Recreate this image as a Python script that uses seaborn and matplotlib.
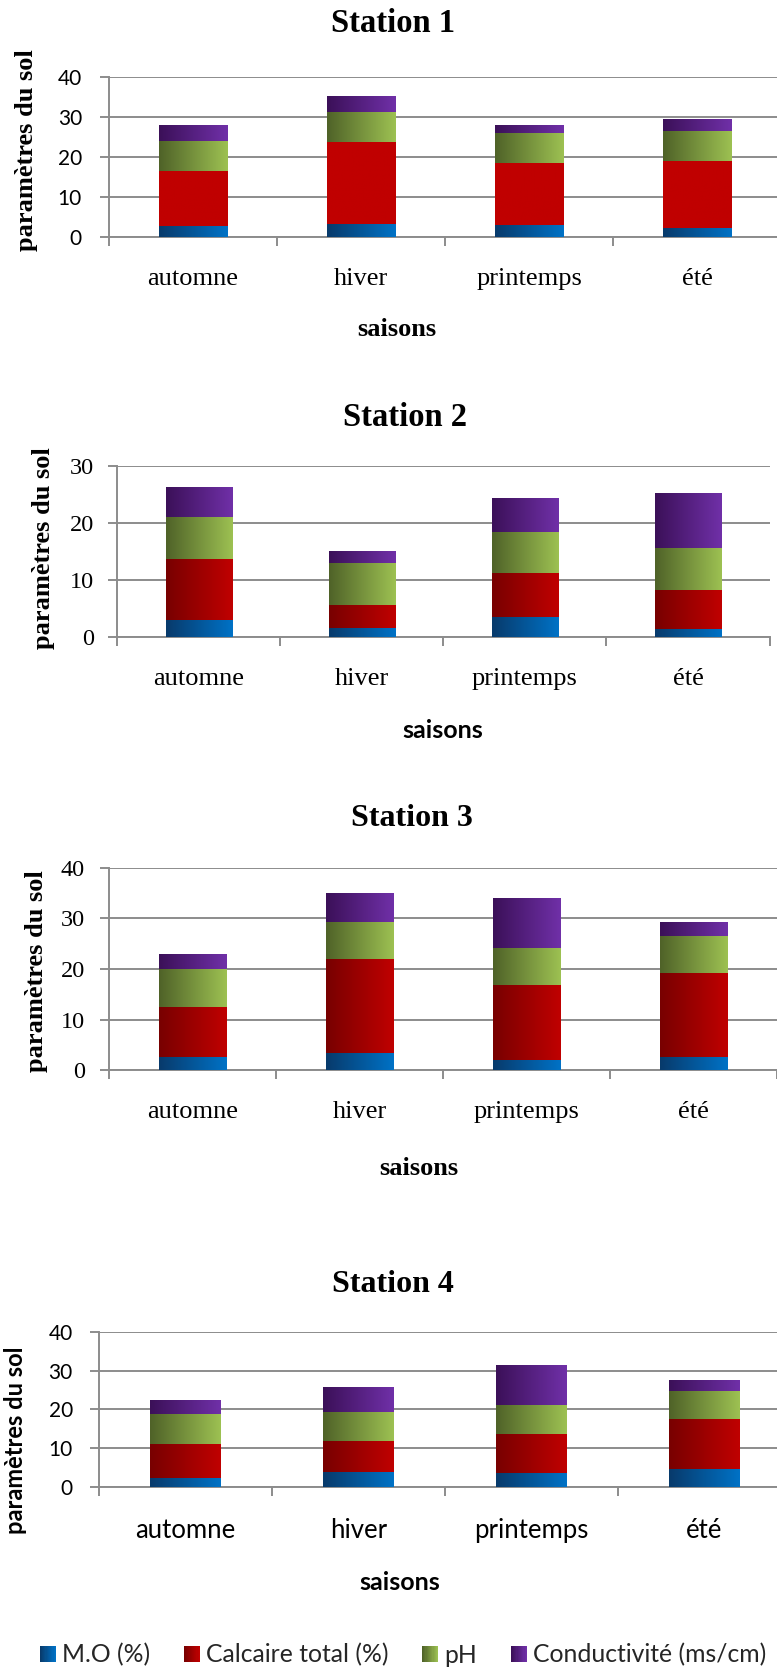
import numpy as np
import pandas as pd
import matplotlib
matplotlib.use("Agg")
import matplotlib.pyplot as plt
import seaborn as sns
from matplotlib.colors import LinearSegmentedColormap, to_rgb
from matplotlib.patches import Rectangle
from matplotlib.legend_handler import HandlerBase

# ---- data -------------------------------------------------------------
saisons = ["automne", "hiver", "printemps", "été"]
parametres = ["M.O (%)", "Calcaire total (%)", "pH", "Conductivité (ms/cm)"]

mo_s1 = [2.7, 3.2, 2.8, 2.2]
calc_s1 = [13.7, 20.4, 15.6, 16.7]
ph_s1 = [7.5, 7.5, 7.5, 7.5]
cond_s1 = [4.0, 4.0, 2.0, 2.8]

mo_s2 = [3.0, 1.6, 3.5, 1.4]
calc_s2 = [10.6, 4.0, 7.7, 6.8]
ph_s2 = [7.4, 7.35, 7.2, 7.4]
cond_s2 = [5.1, 2.1, 5.8, 9.6]

mo_s3 = [2.6, 3.4, 2.0, 2.6]
calc_s3 = [9.9, 18.6, 14.8, 16.6]
ph_s3 = [7.5, 7.3, 7.3, 7.3]
cond_s3 = [2.8, 5.7, 9.9, 2.6]

mo_s4 = [2.3, 3.9, 3.6, 4.6]
calc_s4 = [8.7, 7.9, 10.0, 12.9]
ph_s4 = [7.8, 7.5, 7.5, 7.2]
cond_s4 = [3.6, 6.4, 10.3, 2.8]

# ---- style ------------------------------------------------------------
sns.set_theme(style="white")
SERIF = ["Liberation Serif", "DejaVu Serif"]
SANS = ["Lato", "DejaVu Sans"]
plt.rcParams["font.family"] = SERIF

GRID = "#8c8c8c"
GRAD = {
    "M.O (%)": ("#083a6b", "#0072c6"),
    "Calcaire total (%)": ("#780000", "#c00000"),
    "pH": ("#4f6228", "#9dc152"),
    "Conductivité (ms/cm)": ("#3b1058", "#7030a8"),
}
FLAT_RED = ("#c00000", "#c00000")

W, H = 777, 1671
fig = plt.figure(figsize=(W / 100, H / 100), dpi=100)


def stacked_station(box, layers, ymax, title, title_xy, xlab_xy, ylab_xy,
                    tick_font, tick_size, tick_pad, ytick_font, ytick_size,
                    ytick_pad, ylab_font, ylab_size, xlab_font, xlab_size,
                    title_size, flat_red=False):
    left, right, top, bottom = box
    ax = fig.add_axes([left / W, 1 - bottom / H, (right - left) / W, (bottom - top) / H])

    def fx(px):
        return (px - left) / (right - left)

    def fy(py):
        return (bottom - py) / (bottom - top)

    base = np.zeros(len(saisons))
    for name, vals in zip(parametres, layers):
        df = pd.DataFrame({"saison": saisons, "valeur": vals})
        c0, c1 = GRAD[name]
        if flat_red and name == "Calcaire total (%)":
            c0, c1 = FLAT_RED
        n_before = len(ax.patches)
        sns.barplot(data=df, x="saison", y="valeur", order=saisons, width=0.405,
                    errorbar=None, color=c1, bottom=base.copy(), linewidth=0,
                    zorder=3, ax=ax)
        cmap = LinearSegmentedColormap.from_list(name, [c0, c1])
        for p in ax.patches[n_before:]:
            x0, y0 = p.get_x(), p.get_y()
            x1, y1 = x0 + p.get_width(), y0 + p.get_height()
            ax.imshow(np.linspace(0, 1, 256).reshape(1, -1), cmap=cmap,
                      extent=[x0, x1, y0, y1], aspect="auto", zorder=3.5,
                      interpolation="bilinear")
        base = base + np.asarray(vals)

    ax.set_xlim(-0.5, 3.5)
    ax.set_ylim(0, ymax)
    ax.set_yticks(np.arange(0, ymax + 1, 10))
    ax.set_xticks(range(len(saisons)))
    ax.set_xticklabels(saisons)
    ax.set_xticks(np.arange(-0.5, 4.0, 1.0), minor=True)

    ax.set_axisbelow(True)
    ax.yaxis.grid(True, color=GRID, lw=1.4)
    ax.xaxis.grid(False)
    for s in ("top", "right"):
        ax.spines[s].set_visible(False)
    for s in ("left", "bottom"):
        ax.spines[s].set_color(GRID)
        ax.spines[s].set_linewidth(1.4)

    ax.tick_params(axis="x", which="major", length=0, pad=tick_pad, bottom=True)
    ax.tick_params(axis="x", which="minor", length=6.5, width=1.4, color=GRID,
                   bottom=True, direction="out")
    ax.tick_params(axis="y", which="major", length=6.5, width=1.4, color=GRID,
                   left=True, direction="out", pad=ytick_pad)
    for t in ax.get_xticklabels():
        t.set_fontfamily(tick_font)
        t.set_fontsize(tick_size)
        t.set_va("center")
        t.set_color("black")
    for t in ax.get_yticklabels():
        t.set_fontfamily(ytick_font)
        t.set_fontsize(ytick_size)
        t.set_color("black")

    ax.set_xlabel("saisons", fontfamily=xlab_font, fontweight="bold",
                  fontsize=xlab_size, color="black", va="center")
    ax.xaxis.set_label_coords(fx(xlab_xy[0]), fy(xlab_xy[1]))
    ax.set_ylabel("paramètres du sol", fontfamily=ylab_font, fontweight="bold",
                  fontsize=ylab_size, color="black", va="center")
    ax.yaxis.set_label_coords(fx(ylab_xy[0]), fy(ylab_xy[1]))
    ax.set_title(title, x=fx(title_xy[0]), y=fy(title_xy[1]), va="center",
                 pad=0, fontfamily=SERIF, fontweight="bold",
                 fontsize=title_size, color="black")
    return ax


stacked_station((109, 781, 76.7, 236.7), [mo_s1, calc_s1, ph_s1, cond_s1], 40,
                "Station 1", (393, 23), (397, 330), (27, 150),
                SERIF, 19, 30.5, SANS, 15, 13, SERIF, 19, SERIF, 19, 23.5,
                flat_red=True)

stacked_station((117, 769.5, 465.7, 637), [mo_s2, calc_s2, ph_s2, cond_s2], 30,
                "Station 2", (404.6, 418), (443, 730), (44, 548),
                SERIF, 19, 30.2, SERIF, 17.5, 10, SERIF, 19, SANS, 18, 23.5)

stacked_station((109, 777, 868, 1070), [mo_s3, calc_s3, ph_s3, cond_s3], 40,
                "Station 3", (412, 819), (419, 1168), (37, 971),
                SERIF, 19, 30.2, SERIF, 17.5, 10.8, SERIF, 19, SERIF, 19, 23)

stacked_station((99, 791, 1332, 1486.7), [mo_s4, calc_s4, ph_s4, cond_s4], 40,
                "Station 4", (393, 1284), (400, 1583), (16, 1440),
                SANS, 18.5, 31.8, SANS, 15, 12.3, SANS, 17, SANS, 18, 23)


# ---- legend with gradient swatches --------------------------------------
class GradientSwatch(HandlerBase):
    def __init__(self, c0, c1, n=14):
        super().__init__()
        self.c0, self.c1, self.n = np.array(to_rgb(c0)), np.array(to_rgb(c1)), n

    def create_artists(self, legend, orig_handle, xdescent, ydescent, width,
                       height, fontsize, trans):
        side = min(width, height)
        x0 = -xdescent
        y0 = -ydescent + (height - side) / 2
        step = side / self.n
        arts = []
        for i in range(self.n):
            f = i / (self.n - 1)
            col = self.c0 * (1 - f) + self.c1 * f
            arts.append(Rectangle((x0 + i * step, y0), step * 1.02, side,
                                  facecolor=col, edgecolor="none", transform=trans))
        return arts


proxies = [Rectangle((0, 0), 1, 1) for _ in parametres]
hmap = {h: GradientSwatch(*GRAD[name]) for h, name in zip(proxies, parametres)}
fig.legend(proxies, parametres, handler_map=hmap, loc="center",
           bbox_to_anchor=(403 / W, 1 - 1655 / H), ncol=4, frameon=False,
           prop={"family": SANS, "size": 17.8}, handlelength=0.66,
           handleheight=0.66, handletextpad=0.25, columnspacing=1.35,
           borderpad=0, borderaxespad=0)

fig.savefig("out.png", dpi=100)
